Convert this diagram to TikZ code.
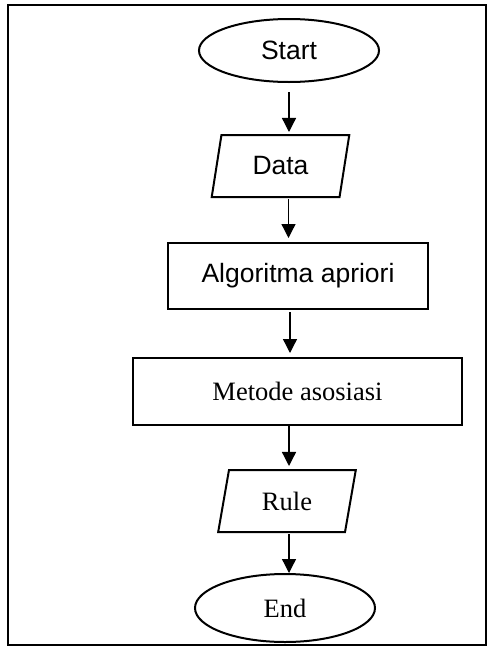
\documentclass[tikz,border=0pt]{standalone}
\usepackage{fontspec}
\setmainfont{Liberation Serif}
\newfontfamily\arialf{Liberation Sans}
\usetikzlibrary{shapes.geometric,arrows.meta}
\begin{document}
\begin{tikzpicture}[x=1pt,y=-1pt,
  shapeline/.style={draw=black, line width=2pt, inner sep=0pt, outer sep=0pt},
  term/.style={shapeline, ellipse},
  io/.style={shapeline, trapezium, trapezium left angle=76, trapezium right angle=104, trapezium stretches=true},
  proc/.style={shapeline, rectangle},
  sanstxt/.style={font=\arialf\fontsize{26.5}{30}\selectfont},
  seriftxt/.style={font=\fontsize{26.5}{30}\selectfont},
  flow/.style={draw=black, line width=1.3pt, -{Triangle[length=14pt,width=14pt]}}]
\useasboundingbox (0,0) rectangle (489,646);
\draw[line width=2pt] (8,4.5) rectangle (485.5,644.5);

\node[term, sanstxt, minimum width=180pt, minimum height=63pt] (start) at (289,50.5) {Start};
\node[io, sanstxt, minimum width=138pt, minimum height=62pt] (data) at (280.5,166) {Data};
\node[proc, sanstxt, minimum width=260pt, minimum height=66pt] (algo) at (298,276) {Algoritma apriori};
\node[proc, seriftxt, minimum width=329pt, minimum height=67pt] (metode) at (297.5,391.5) {Metode asosiasi};
\node[io, seriftxt, minimum width=138pt, minimum height=62pt] (rule) at (287,501) {Rule};
\node[term, seriftxt, minimum width=180pt, minimum height=68pt] (end) at (285,608) {End};

\draw[flow, shorten <=10pt, shorten >=3pt] (start.south) -- (start.south |- data.north);
\draw[flow, shorten <=2pt, shorten >=5pt] ([xshift=8pt]data.south) -- ([xshift=8pt]data.south |- algo.north);
\draw[flow, shorten <=3pt, shorten >=5pt] ([xshift=-8pt]algo.south) -- ([xshift=-8pt]algo.south |- metode.north);
\draw[flow, shorten <=1pt, shorten >=4pt] ([xshift=2pt]rule.north |- metode.south) -- ([xshift=2pt]rule.north);
\draw[flow, shorten <=2pt, shorten >=1pt] ([xshift=2pt]rule.south) -- ([xshift=2pt]rule.south |- end.north);
\end{tikzpicture}
\end{document}
